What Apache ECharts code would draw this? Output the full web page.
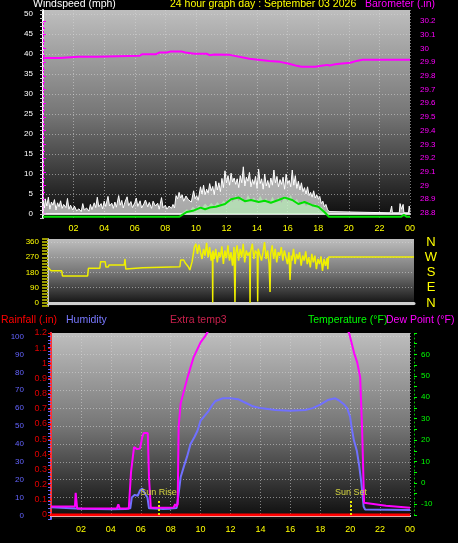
<!DOCTYPE html>
<html><head><meta charset="utf-8">
<script src="https://cdn.jsdelivr.net/npm/echarts@6/dist/echarts.min.js"></script>
<style>html,body{margin:0;padding:0;background:#000;}#c{width:458px;height:543px;}</style>
</head><body><div id="c"></div>
<script>
// ---- data (hour of day, value) ----
const hourLabels = ['02','04','06','08','10','12','14','16','18','20','22','00'];
const dirLabels = {0:'N', 90:'E', 180:'S', 270:'W', 360:'N'};

const windGust = [[0,3.5],[0.1,1.5],[0.15,3.8],[0.25,2.0],[0.35,4.2],[0.45,1.2],[0.55,3.0],[0.65,2.2],[0.75,3.6],[0.85,1.0],[0.95,2.8],[1.05,1.8],[1.15,3.3],[1.25,1.4],[1.35,2.4],[1.5,1.6],[1.6,3.9],[1.7,1.2],[1.8,2.2],[1.95,1.0],[2.05,2.0],[2.2,0.8],[2.35,1.3],[2.5,0.6],[2.6,2.6],[2.7,1.0],[2.85,1.5],[3.0,0.7],[3.1,2.4],[3.2,1.1],[3.35,2.8],[3.45,1.6],[3.55,4.2],[3.65,1.8],[3.8,2.6],[3.9,1.3],[4.0,3.2],[4.1,1.9],[4.25,4.4],[4.35,2.0],[4.5,2.7],[4.6,1.4],[4.7,3.0],[4.8,1.7],[4.95,4.6],[5.05,2.2],[5.15,3.4],[5.25,1.5],[5.35,2.9],[5.5,4.3],[5.6,2.1],[5.75,3.1],[5.85,1.6],[6.0,2.8],[6.1,4.0],[6.2,1.9],[6.35,3.3],[6.45,1.5],[6.6,2.6],[6.7,3.5],[6.85,1.8],[6.95,2.9],[7.1,1.4],[7.2,3.2],[7.35,2.0],[7.5,2.7],[7.6,1.2],[7.75,4.1],[7.85,1.6],[8.0,2.2],[8.1,1.2],[8.25,2.0],[8.4,1.4],[8.5,2.4],[8.6,1.5],
[8.7,4.6],[8.8,3.8],[8.9,5.4],[9.0,4.0],[9.1,4.8],[9.2,3.2],[9.35,4.5],[9.5,3.6],[9.6,4.0],[9.7,3.0],[9.85,5.8],[9.95,3.8],[10.05,4.6],[10.15,3.4],[10.3,6.8],[10.4,5.0],[10.5,7.2],[10.6,4.8],[10.7,6.2],[10.8,5.2],[10.9,7.6],[11.0,5.8],[11.1,6.9],[11.2,4.8],[11.3,8.2],[11.4,6.0],[11.5,7.8],[11.6,5.6],[11.7,8.9],[11.8,6.6],[11.9,10.8],[12.0,7.8],
[12.1,9.6],[12.2,7.2],[12.3,10.2],[12.4,8.0],[12.5,9.0],[12.6,7.4],[12.7,8.8],[12.8,6.6],[12.9,9.6],[13.0,7.8],[13.1,11.8],[13.2,7.0],[13.3,9.2],[13.4,8.2],[13.5,10.4],[13.6,6.8],[13.7,8.6],[13.8,7.4],[13.9,9.4],[14.0,6.4],[14.1,11.2],[14.2,7.6],[14.3,8.8],[14.4,6.2],[14.5,10.0],[14.6,7.0],[14.7,8.4],[14.8,6.6],[14.9,9.0],[15.0,7.2],[15.1,11.0],[15.2,7.8],[15.3,9.4],[15.4,6.8],[15.5,8.6],[15.6,7.4],[15.7,9.2],[15.8,6.2],[15.9,10.0],[16.0,7.6],[16.1,8.4],[16.2,6.8],[16.3,11.0],[16.4,7.2],[16.5,9.6],[16.6,6.4],[16.7,8.2],[16.8,6.0],[16.9,7.8],[17.0,5.6],[17.1,6.6],[17.2,5.0],[17.3,6.8],[17.4,4.6],[17.5,5.4],[17.6,4.2],[17.7,5.8],[17.8,4.0],[17.9,4.8],[18.0,3.8],[18.1,4.4],[18.2,2.6],[18.3,3.2],[18.4,1.8],[18.5,2.4],[18.6,1.2],[18.7,0.6],
[18.8,0.3],[22.7,0.3],[22.8,2.0],[22.85,0.3],[23.3,0.3],[23.35,2.6],[23.45,1.2],[23.55,2.4],[23.6,0.3],[23.9,0.3],[23.95,2.0],[24,0.6]];

const windAvg = [[9.0,0],[9.2,0.6],[9.4,1.2],[9.6,0.8],[9.8,1.8],[10.0,1.2],[10.2,2.2],[10.4,1.6],[10.6,2.6],[10.8,1.8],[11.0,2.8],[11.2,2.0],[11.4,3.0],[11.6,2.2],[11.8,3.4],[12.0,2.6],[12.2,4.2],[12.4,3.0],[12.6,4.6],[12.8,3.2],[13.0,4.4],[13.2,2.8],[13.4,4.8],[13.6,3.4],[13.8,4.2],[14.0,2.8],[14.2,4.6],[14.4,3.2],[14.6,4.0],[14.8,2.6],[15.0,4.4],[15.2,3.0],[15.4,4.2],[15.6,2.8],[15.8,4.6],[16.0,3.2],[16.2,4.8],[16.4,3.0],[16.6,3.8],[16.8,2.4],[17.0,3.4],[17.2,2.0],[17.4,3.0],[17.6,1.8],[17.8,2.6],[18.0,1.4],[18.2,1.8],[18.4,0.8],[18.6,0.6],[18.8,0]];

const windAvgLine = [[0,-0.7],[1.0,-0.7],[1.1,-0.2],[1.2,-0.7],[3.4,-0.7],[3.5,-0.2],[3.6,-0.7],[4.4,-0.7],[4.5,-0.2],[4.6,-0.7],[7.3,-0.7],[7.4,-0.2],[7.5,-0.7],[8.9,-0.7],[9.4,0.5],[9.8,0.8],[10.3,1.6],[10.6,1.2],[10.9,1.6],[11.3,1.8],[11.9,2.5],[12.3,3.7],[12.8,4.1],[13.2,3.2],[13.6,3.5],[14.1,3.0],[14.5,3.3],[14.9,2.8],[15.4,3.5],[15.8,4.1],[16.3,3.5],[16.7,2.5],[17.1,3.0],[17.6,2.2],[18.0,1.8],[18.4,0.5],[18.7,-0.7],[23.4,-0.7],[23.6,-0.2],[23.8,-0.7],[24,-0.7]];

const barometer = [[0,29.93],[1.1,29.93],[1.2,29.94],[2.3,29.94],[2.4,29.942],[2.6,29.94],[3.5,29.94],[3.6,29.946],[6.3,29.946],[6.5,29.958],[7.4,29.958],[7.6,29.97],[8.1,29.97],[8.3,29.977],[9.1,29.977],[9.3,29.97],[9.9,29.961],[10.7,29.961],[10.9,29.951],[11.2,29.955],[12.2,29.953],[13.5,29.924],[14.8,29.909],[15.5,29.902],[16.1,29.888],[16.6,29.873],[16.9,29.866],[17.8,29.866],[18.2,29.873],[18.6,29.88],[18.75,29.875],[19.0,29.882],[19.4,29.888],[20.1,29.895],[20.5,29.909],[20.9,29.917],[24,29.917]];

const windDir = [[0,210],[0.2,190],[0.9,190],[0.95,160],[2.6,160],[2.65,205],[3.4,205],[3.45,244],[3.75,244],[3.8,212],[3.95,212],[4.0,224],[5.0,224],[5.05,260],[5.1,200],[6.2,208],[6.25,214],[8.65,214],[8.7,254],[8.9,254],[9.0,236],[9.2,214],[9.3,195],[9.45,244],
[9.5,250],[9.6,330],[9.7,350],[9.8,290],[9.9,345],[10.0,300],[10.1,260],[10.2,320],[10.3,280],[10.4,355],[10.5,270],[10.6,330],[10.7,250],[10.78,300],[10.8,2],[10.82,310],[10.9,260],[11.0,320],[11.1,240],[11.2,300],[11.3,270],[11.4,335],[11.5,230],[11.6,310],[11.7,265],[11.8,340],[11.9,250],[12.0,300],[12.1,220],[12.2,330],[12.26,6],[12.3,290],[12.4,340],[12.5,250],[12.6,320],[12.7,270],[12.8,350],[12.9,240],[13.0,310],[13.1,280],[13.22,300],[13.25,0],[13.28,300],[13.4,350],[13.5,260],[13.6,310],[13.72,290],[13.75,8],[13.78,320],[13.9,330],[14.0,250],[14.1,300],[14.2,360],[14.3,260],[14.4,310],[14.5,230],[14.56,65],[14.6,290],[14.7,340],[14.8,260],[14.9,320],[15.0,240],[15.1,300],[15.2,280],[15.3,330],[15.4,250],[15.5,310],[15.6,270],[15.7,230],[15.8,300],[15.87,136],[15.95,280],[16.0,250],[16.1,320],[16.2,230],[16.3,290],[16.4,260],[16.5,300],[16.6,220],[16.7,280],[16.8,250],[16.9,305],[17.0,230],[17.1,270],[17.2,210],[17.3,290],[17.4,240],[17.5,280],[17.6,200],[17.7,260],[17.8,230],[17.9,275],[18.0,190],[18.1,260],[18.2,220],[18.3,265],[18.35,200],[18.4,272],[24,272]];

const humidity = [[0,4.5],[1.0,4.2],[2.0,3.8],[3.0,3.6],[4.0,3.5],[5.0,3.6],[5.3,4],[5.4,10],[5.6,11.5],[5.8,11],[5.95,14],[6.1,15],[6.3,12],[6.45,10],[6.55,4],[7.5,3.6],[8.0,3.8],[8.4,4.2],[8.5,10],[8.67,21.5],[8.87,27],[9.1,33],[9.33,40],[9.6,44],[9.8,47.5],[10.0,53],[10.2,55],[10.5,58],[10.8,62],[11.0,64],[11.5,65.5],[12.0,65.5],[12.5,65],[13.0,63],[13.5,61],[14.0,60],[15.0,59],[16.0,58.5],[17.0,59],[17.5,60],[18.0,62],[18.5,64.5],[19.0,65.5],[19.3,64],[19.6,62],[19.8,60],[20.0,55],[20.1,49],[20.25,42],[20.35,41],[20.45,36],[20.6,28],[20.75,18],[20.9,5],[21.0,3.3],[24,3]];

const dewPoint = [[0,-11],[1.6,-11],[1.65,-4.6],[1.72,-4.6],[1.75,-12],[4.4,-12],[4.5,-10],[4.6,-12],[5.2,-12],[5.35,5],[5.55,16.7],[5.75,15.8],[5.95,16],[6.1,21.4],[6.2,23.3],[6.47,23.3],[6.55,2.8],[6.67,-11.6],[8.2,-11.5],[8.3,-10],[8.4,-11],[8.47,-10],[8.53,26],[8.67,37.2],[9.13,49.3],[9.53,58.6],[10.0,65.6],[10.33,68.8],[10.6,72],[11,75],[19.5,75],[19.93,70],[20.27,60.5],[20.47,56.3],[20.67,49.3],[20.8,24.7],[20.93,-9.3],[22.4,-10.7],[24,-11.6]];

const rainfall = [[0,0],[24,0]];
const sunEvents = [{name:'Sun Rise', hour:7.18},{name:'Sun Set', hour:20.05}];

// ---- styling helpers ----
const FONT = '"Liberation Sans", Arial, sans-serif';
const bg = () => ({type:'linear',x:0,y:0,x2:0,y2:1,colorStops:[{offset:0,color:'#bebebe'},{offset:0.5,color:'#767676'},{offset:1,color:'#0c0c0c'}]});
const gridLine = {show:true,lineStyle:{color:'rgba(215,215,215,0.55)',type:[1,2],width:1}};
const every5th = ['transparent','rgba(215,215,215,0.55)','transparent','transparent','transparent'];
const hourFmt = v => (v > 0 && v % 2 === 0) ? hourLabels[v/2 - 1] : '';
const round1 = v => String(Math.round(v*10)/10);
const ttl = (text, left, top, color) => ({text, left, top, padding:0, textStyle:{color, fontSize:10.5, fontWeight:'normal', fontFamily:FONT}});

const chart = echarts.init(document.getElementById('c'), null, {renderer:'canvas'});
chart.setOption({
  animation: false,
  backgroundColor: '#000',
  title: [
    ttl('Windspeed (mph)', 33, -1, '#ffffff'),
    ttl('24 hour graph day : September 03 2026', 170, -1, '#ffff00'),
    ttl('Barometer (.in)', 365, -1, '#ff00ff'),
    ttl('Rainfall (.in)', 1, 315, '#ff0000'),
    ttl('Humidity', 66, 315, '#7878ff'),
    ttl('Extra temp3', 170, 315, '#c8204c'),
    ttl('Temperature (°F)', 308, 315, '#00ff00'),
    ttl('Dew Point (°F)', 386, 315, '#ff00ff')
  ],
  grid: [
    {left:43, top:10, width:367, height:208, show:true, backgroundColor:bg(), borderWidth:0},
    {left:43, top:21, width:367, height:192, show:false},
    {left:48, top:239, width:366, height:67, show:true, backgroundColor:bg(), borderWidth:0},
    {left:51, top:333, width:359, height:186, show:true, backgroundColor:bg(), borderWidth:0},
    {left:51, top:333, width:359, height:182, show:false}
  ],
  xAxis: [
    {gridIndex:0, type:'value', min:0, max:24, interval:2,
     axisLine:{show:true,lineStyle:{color:'#d0d0d0',width:2}}, axisTick:{show:false},
     axisLabel:{color:'#ffff00',fontSize:9,fontFamily:FONT,margin:6,formatter:hourFmt},
     splitLine:gridLine},
    {gridIndex:1, type:'value', min:0, max:24, show:false},
    {gridIndex:2, type:'value', min:0, max:24, interval:2,
     axisLine:{show:true,lineStyle:{color:'#d0d0d0',width:3}}, axisTick:{show:false}, axisLabel:{show:false}, splitLine:{show:false}},
    {gridIndex:3, type:'value', min:0, max:24, interval:2,
     axisLine:{show:true,lineStyle:{color:'#e0e0e0',width:2}}, axisTick:{show:false},
     axisLabel:{color:'#ffff00',fontSize:9,fontFamily:FONT,margin:6,formatter:hourFmt},
     splitLine:gridLine},
    {gridIndex:4, type:'value', min:0, max:24, show:false}
  ],
  yAxis: [
    {gridIndex:0, type:'value', min:-1, max:51, interval:1, position:'left',
     axisLine:{show:true,lineStyle:{color:'#ffffff',width:2}},
     axisTick:{show:true,length:3,lineStyle:{color:'#c8c8c8'}},
     axisLabel:{color:'#ffffff',fontSize:8,fontFamily:FONT,margin:10,formatter:v => (v>=0 && v<=50 && v%5===0) ? String(v) : ''},
     splitLine:{show:true,lineStyle:{color:every5th,type:[1,2],width:1}}},
    {gridIndex:1, type:'value', min:28.8, max:30.2, interval:0.1, position:'right',
     axisLine:{show:true,lineStyle:{color:'#ff00ff',type:[2,2],width:1}},
     axisTick:{show:true,length:3,lineStyle:{color:'#ff00ff'}},
     minorTick:{show:true,splitNumber:2,length:2,lineStyle:{color:'#ff00ff'}},
     axisLabel:{color:'#ff00ff',fontSize:8,fontFamily:FONT,margin:10,formatter:round1},
     splitLine:{show:false}},
    {gridIndex:2, type:'value', min:-18, max:378, interval:18, position:'left',
     axisLine:{show:true,lineStyle:{color:'#c8c8c8',width:2}},
     axisTick:{show:true,length:6,lineStyle:{color:'#9a9a00',width:2}},
     axisLabel:{color:'#ffff00',fontSize:8,fontFamily:FONT,margin:9,formatter:v => (v>=0 && v<=360 && v%90===0) ? String(v) : ''},
     splitLine:{show:true,lineStyle:{color:every5th,type:[1,2],width:1}}},
    {gridIndex:2, type:'value', min:-18, max:378, interval:18, position:'right',
     axisLine:{show:false}, axisTick:{show:false}, splitLine:{show:false},
     axisLabel:{color:'#ffff00',fontSize:13,fontFamily:FONT,margin:17,align:'center',formatter:v => (dirLabels[v] !== undefined ? dirLabels[v] : '')}},
    {gridIndex:3, type:'value', min:-2, max:102, interval:2, position:'left', offset:22,
     axisLine:{show:true,lineStyle:{color:'#6464ff',width:2}},
     axisTick:{show:true,length:3,lineStyle:{color:'#6464ff'}},
     axisLabel:{color:'#6464ff',fontSize:8,fontFamily:FONT,margin:5,formatter:v => (v>=0 && v<=100 && v%10===0) ? String(v) : ''},
     splitLine:{show:true,lineStyle:{color:every5th,type:[1,2],width:1}}},
    {gridIndex:4, type:'value', min:0, max:1.2, interval:0.1, position:'left',
     axisLine:{show:true,lineStyle:{color:'#ff3030',type:[2,1],width:2}},
     axisTick:{show:true,length:3,lineStyle:{color:'#ff0000'}},
     axisLabel:{color:'#e00000',fontSize:9,fontFamily:FONT,margin:4,formatter:round1},
     splitLine:{show:false}},
    {gridIndex:4, type:'value', min:-15, max:70, interval:5, position:'right', offset:4,
     axisLine:{show:true,lineStyle:{color:'#00c000',type:[1,3],width:1}},
     axisTick:{show:true,length:3,lineStyle:{color:'#00ff00'}},
     axisLabel:{color:'#00ff00',fontSize:8,fontFamily:FONT,margin:7,formatter:v => (v<=60 && v%10===0) ? String(v) : ''},
     splitLine:{show:false}}
  ],
  series: [
    {name:'Wind gust', type:'line', xAxisIndex:0, yAxisIndex:0, data:windGust, showSymbol:false,
     lineStyle:{color:'#ffffff',width:1}, areaStyle:{color:'rgba(250,250,250,0.92)'}},
    {name:'Wind avg', type:'line', xAxisIndex:0, yAxisIndex:0, data:windAvg, showSymbol:false,
     lineStyle:{width:0}, areaStyle:{color:'rgba(185,245,185,0.9)'}},
    {name:'Wind avg line', type:'line', xAxisIndex:0, yAxisIndex:0, data:windAvgLine, showSymbol:false,
     lineStyle:{color:'#00e000',width:2}},
    {name:'Barometer', type:'line', xAxisIndex:1, yAxisIndex:1, data:barometer, showSymbol:false,
     lineStyle:{color:'#ff00ff',width:2}},
    {name:'Wind direction', type:'line', xAxisIndex:2, yAxisIndex:2, data:windDir, showSymbol:false,
     lineStyle:{color:'#f0f000',width:1.5}},
    {name:'Humidity', type:'line', xAxisIndex:3, yAxisIndex:4, data:humidity, showSymbol:false,
     lineStyle:{color:'#7070ff',width:2}},
    {name:'Rainfall', type:'line', xAxisIndex:4, yAxisIndex:5, data:rainfall, showSymbol:false,
     lineStyle:{color:'#ff0000',width:3}},
    {name:'Dew Point', type:'line', xAxisIndex:4, yAxisIndex:6, data:dewPoint, showSymbol:false,
     lineStyle:{color:'#ff00ff',width:2},
     markLine:{symbol:'none', silent:true,
       lineStyle:{color:'#e8e800',type:[2,2],width:2},
       label:{show:true,position:'end',formatter:'{b}',color:'#d8d840',fontSize:9,fontFamily:FONT,distance:2},
       data: sunEvents.map(e => [{coord:[e.hour,-15],name:e.name},{coord:[e.hour,-7.5]}])}}
  ]
});
</script></body></html>
